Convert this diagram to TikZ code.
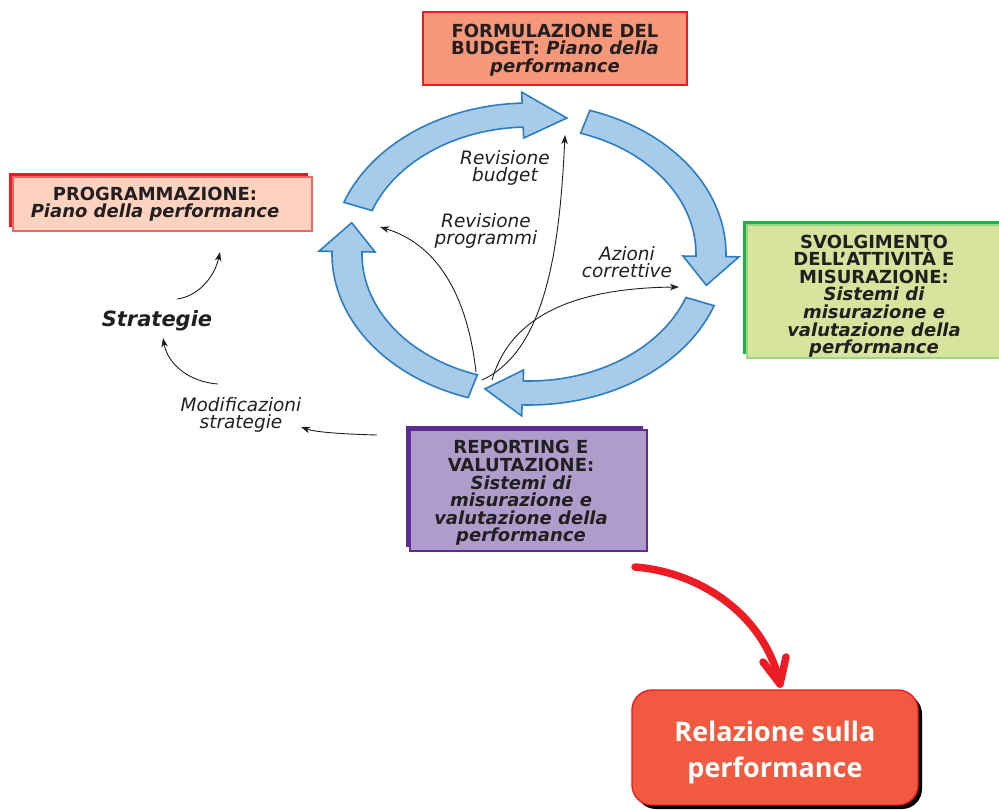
\documentclass[tikz,border=0pt]{standalone}
\usepackage{fontspec}
\setmainfont{DejaVu Sans}
\newfontfamily\relfont{Open Sans}
\usetikzlibrary{arrows.meta,shadows}
\definecolor{txt}{HTML}{231F20}
\definecolor{cycFill}{HTML}{A8CBEA}
\definecolor{cycDraw}{HTML}{2B7EC1}
\definecolor{redC}{HTML}{ED1C24}
\definecolor{formFill}{HTML}{F6977A}
\definecolor{progFill}{HTML}{FDD3C0}
\definecolor{progDraw}{HTML}{F26565}
\definecolor{svolFill}{HTML}{D6E49D}
\definecolor{greenC}{HTML}{21AE4B}
\definecolor{repFill}{HTML}{AF9CCA}
\definecolor{purpleC}{HTML}{5C2D91}
\definecolor{relFill}{HTML}{F15A40}
\def\cyX{529}\def\cyY{254}
\newcommand\cyclearrow[3]{%
  \filldraw[cycarrow]
    plot[domain=#1:#2, samples=40, variable=\t] ({\cyX+197*cos(\t)}, {\cyY-151*sin(\t)})
    -- ({\cyX+210*cos(#2)}, {\cyY-162*sin(#2)})
    -- ({\cyX+182*cos(#3)}, {\cyY-139*sin(#3)})
    -- ({\cyX+154*cos(#2)}, {\cyY-116*sin(#2)})
    -- plot[domain=#2:#1, samples=40, variable=\t] ({\cyX+167*cos(\t)}, {\cyY-127*sin(\t)})
    -- cycle;}
\begin{document}
\begin{tikzpicture}[x=1pt,y=-1pt,
  cycarrow/.style={fill=cycFill, draw=cycDraw, line width=1.6pt, line join=miter},
  boxbase/.style={inner sep=0pt, outer sep=0pt, line width=1.4pt},
  boxtext/.style={align=center, text=txt, inner sep=0pt, font=\fontsize{18}{17.6}\selectfont\bfseries},
  lbl/.style={align=center, text=txt, inner sep=0pt, font=\fontsize{18.5}{17.5}\selectfont\itshape},
  thinarrow/.style={draw=txt, line width=0.9pt, -{Stealth[length=9pt,width=6.5pt,inset=2.5pt]}},
  redline/.style={draw=redC, line width=7.5pt, line cap=round, line join=round}]
\useasboundingbox (0,0) rectangle (999,809);
\clip (0,0) rectangle (999,809);

% cycle arrows
\cyclearrow{160}{92}{78}
\cyclearrow{72}{-1}{-13}
\cyclearrow{-20}{-92}{-104}
\cyclearrow{-108}{-181}{-193}

% boxes
\node[boxbase, draw=redC, fill=formFill, minimum width=264pt, minimum height=73pt] (form) at (555,48.5) {};
\node[boxtext] (formT) at (555,50) {FORMULAZIONE DEL\\BUDGET: \itshape Piano della\\\itshape performance};

\node[boxbase, draw=progDraw, fill=progFill, minimum width=299pt, minimum height=54pt,
  drop shadow={shadow xshift=-4pt, shadow yshift=4pt, fill=redC, opacity=1}] (prog) at (162.5,204) {};
\node[boxtext] (progT) at (155,204) {PROGRAMMAZIONE:\\\itshape Piano della performance};

\node[boxbase, draw=svolFill!70!greenC, fill=svolFill, minimum width=256pt, minimum height=133pt,
  drop shadow={shadow xshift=-4pt, shadow yshift=4pt, fill=greenC, opacity=1}] (svol) at (875,291.5) {};
\node[boxtext] (svolT) at (874,296) {SVOLGIMENTO\\DELL’ATTIVITÀ E\\MISURAZIONE:\\\itshape Sistemi di\\\itshape misurazione e\\\itshape valutazione della\\\itshape performance};

\node[boxbase, draw=purpleC, fill=repFill, minimum width=237pt, minimum height=121pt,
  drop shadow={shadow xshift=-4pt, shadow yshift=4pt, fill=purpleC, opacity=1}] (rep) at (528.5,490.5) {};
\node[boxtext] (repT) at (521,493) {REPORTING E\\VALUTAZIONE:\\\itshape Sistemi di\\\itshape misurazione e\\\itshape valutazione della\\\itshape performance};

\node[boxbase, draw=redC, fill=relFill, rounded corners=20pt, minimum width=286pt, minimum height=115pt,
  drop shadow={shadow xshift=4pt, shadow yshift=-4pt, fill=black, opacity=1}] (rel) at (775,747.5) {};
\node[align=center, text=white, inner sep=0pt, font=\relfont\fontsize{27}{36}\selectfont\bfseries] (relT) at (775,752) {Relazione sulla\\performance};

% labels
\node[lbl] (lbRB) at (505,168) {Revisione\\budget};
\node[lbl] (lbRP) at (486,231) {Revisione\\programmi};
\node[lbl] (lbAC) at (627,262) {Azioni\\correttive};
\node[lbl] (lbMS) at (241,415) {Modificazioni\\strategie};
\node[text=txt, inner sep=0pt, font=\fontsize{21}{21}\selectfont\bfseries\itshape] (strat) at (157,321) {Strategie};

% thin connectors
\coordinate (rp0) at (476,372); \coordinate (rp1) at (380,227);
\coordinate (rb0) at (482,380); \coordinate (rb1) at (565,135);
\coordinate (ra0) at (492,380); \coordinate (ra1) at (679,287);
\draw[thinarrow] (rp0) .. controls (468,300) and (440,245) .. (rp1);
\draw[thinarrow] (rb0) .. controls (548,350) and (560,240) .. (rb1);
\draw[thinarrow] (ra0) .. controls (512,310) and (585,288) .. (ra1);

\coordinate (su0) at (177,299); \coordinate (su1) at (220,252);
\coordinate (sl0) at (218,384); \coordinate (sl1) at (163,338);
\coordinate (sm0) at (377,435); \coordinate (sm1) at (301,427);
\draw[thinarrow] (su0) .. controls (200,296) and (215,275) .. (su1);
\draw[thinarrow] (sl0) .. controls (190,382) and (168,365) .. (sl1);
\draw[thinarrow] (sm0) .. controls (340,434) and (315,432) .. (sm1);

% red arrow
\coordinate (rs) at (635,567); \coordinate (rt) at (780,684);
\coordinate (rwl) at (763,662); \coordinate (rwr) at (786,657);
\draw[redline] (rs) .. controls (700,572) and (765,615) .. (rt);
\draw[redline] (rwl) -- (rt) -- (rwr);
\end{tikzpicture}
\end{document}
